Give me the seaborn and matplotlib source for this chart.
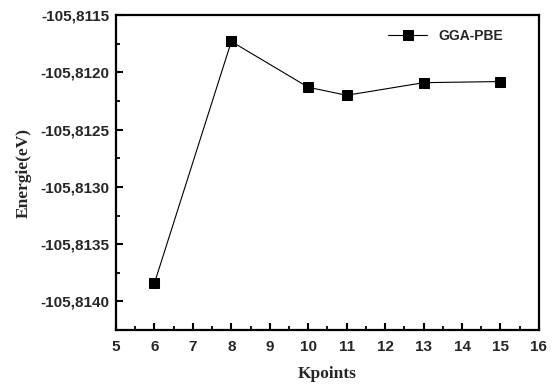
import matplotlib
matplotlib.use("Agg")
import matplotlib.pyplot as plt
import matplotlib.ticker as mticker
import seaborn as sns
import pandas as pd

kpoints = [6, 8, 10, 11, 13, 15]
energie = [-105.81384, -105.81173, -105.81213, -105.81220, -105.81209, -105.81208]
series_name = "GGA-PBE"

sns.set_style("ticks")
plt.rcParams['font.family'] = ['Liberation Sans', 'DejaVu Sans']

df = pd.DataFrame({"Kpoints": kpoints, "Energie": energie, "s": series_name})

fig = plt.figure(figsize=(5.55, 3.87), dpi=100)
ax = fig.add_axes([0.209, 0.147, 0.762, 0.814])
sns.lineplot(data=df, x="Kpoints", y="Energie", hue="s", palette=["black"],
             marker="s", markersize=7, linewidth=0.8, markeredgecolor="black", ax=ax)

ax.set_xlim(5, 16)
ax.set_ylim(-105.81425, -105.8115)
ax.xaxis.set_major_locator(mticker.MultipleLocator(1))
ax.xaxis.set_minor_locator(mticker.MultipleLocator(0.5))
ax.yaxis.set_major_locator(mticker.MultipleLocator(0.0005))
ax.yaxis.set_minor_locator(mticker.MultipleLocator(0.00025))
ax.yaxis.set_major_formatter(mticker.FuncFormatter(lambda v, p: f"{v:.4f}".replace(".", ",")))
ax.xaxis.set_major_formatter(mticker.FuncFormatter(lambda v, p: f"{int(round(v))}"))

for s in ax.spines.values():
    s.set_visible(True)
    s.set_linewidth(1.6)
    s.set_color("black")
ax.tick_params(which="major", direction="in", length=5, width=1.5, labelsize=11, color="black")
ax.tick_params(axis="x", which="major", pad=7)
ax.tick_params(axis="y", which="major", pad=5)
ax.tick_params(which="minor", direction="in", length=3, width=1.3, color="black")
ax.tick_params(top=False, right=False, which="both")
for lab in ax.get_xticklabels() + ax.get_yticklabels():
    lab.set_fontweight("bold")

ax.set_xlabel("Kpoints", fontfamily="Liberation Serif", fontweight="bold", fontsize=12.5, labelpad=9)
ax.set_ylabel("Energie(eV)", fontfamily="Liberation Serif", fontweight="bold", fontsize=12.5, labelpad=6)

leg = ax.legend(loc="upper right", frameon=False, prop={"weight": "bold", "size": 10},
                bbox_to_anchor=(0.945, 0.995), handlelength=2.8)

fig.savefig("out.png", dpi=100)
